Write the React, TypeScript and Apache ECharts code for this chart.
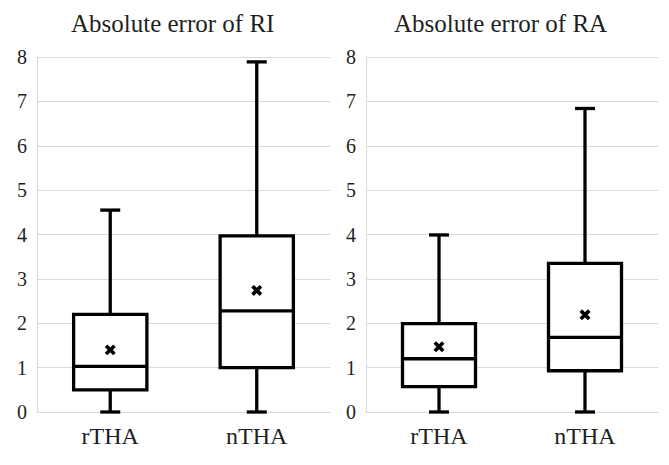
import React, { useEffect, useRef } from "react";
import * as echarts from "echarts";

const categories = ["rTHA", "nTHA"];
const yTicks = [0, 1, 2, 3, 4, 5, 6, 7, 8];

const riMin = [0, 0];
const riQ1 = [0.5, 1.0];
const riMedian = [1.03, 2.28];
const riQ3 = [2.2, 3.97];
const riMax = [4.55, 7.89];
const riMean = [1.4, 2.74];

const raMin = [0, 0];
const raQ1 = [0.57, 0.93];
const raMedian = [1.2, 1.68];
const raQ3 = [1.99, 3.35];
const raMax = [3.99, 6.84];
const raMean = [1.47, 2.19];

const titles = ["Absolute error of RI", "Absolute error of RA"];

const FONT = "serif";
const TEXT = "#1f1f1f";
const GRID = "#d9d9d9";

function buildRows(mn: number[], q1: number[], med: number[], q3: number[], mx: number[], mean: number[]) {
  return categories.map((_, i) => [i, mn[i], q1[i], med[i], q3[i], mx[i], mean[i]]);
}

const renderItem = (params: any, api: any) => {
  const x = api.value(0);
  const pMin = api.coord([x, api.value(1)]);
  const pQ1 = api.coord([x, api.value(2)]);
  const pMed = api.coord([x, api.value(3)]);
  const pQ3 = api.coord([x, api.value(4)]);
  const pMax = api.coord([x, api.value(5)]);
  const pMean = api.coord([x, api.value(6)]);
  const cx = pMin[0];
  const bw = api.size([1, 0])[0] * 0.5;
  const half = bw / 2;
  const cap = 10;
  const lw = 3.3;
  const st = { stroke: "#000", lineWidth: lw, fill: "none" };
  const m = 4.2;
  return {
    type: "group",
    children: [
      { type: "line", shape: { x1: cx, y1: pQ3[1], x2: cx, y2: pMax[1] }, style: st },
      { type: "line", shape: { x1: cx, y1: pQ1[1], x2: cx, y2: pMin[1] }, style: st },
      { type: "line", shape: { x1: cx - cap, y1: pMax[1], x2: cx + cap, y2: pMax[1] }, style: st },
      { type: "line", shape: { x1: cx - cap, y1: pMin[1], x2: cx + cap, y2: pMin[1] }, style: st },
      {
        type: "rect",
        shape: { x: cx - half, y: pQ3[1], width: bw, height: pQ1[1] - pQ3[1] },
        style: { stroke: "#000", lineWidth: lw, fill: "#fff" },
      },
      { type: "line", shape: { x1: cx - half, y1: pMed[1], x2: cx + half, y2: pMed[1] }, style: st },
      {
        type: "line",
        shape: { x1: pMean[0] - m, y1: pMean[1] - m, x2: pMean[0] + m, y2: pMean[1] + m },
        style: { stroke: "#000", lineWidth: 3.6 },
      },
      {
        type: "line",
        shape: { x1: pMean[0] - m, y1: pMean[1] + m, x2: pMean[0] + m, y2: pMean[1] - m },
        style: { stroke: "#000", lineWidth: 3.6 },
      },
    ],
  };
};

export default function App() {
  const ref = useRef<HTMLDivElement>(null);
  useEffect(() => {
    if (!ref.current) return;
    const chart = echarts.init(ref.current, undefined, { renderer: "svg" });
    // chart div sits at the body's 8px margin, so positions are shifted by -8
    const grids = [
      { left: 29, top: 49, width: 293, height: 355 },
      { left: 358, top: 49, width: 292, height: 355 },
    ];
    const xAxis = grids.map((_, i) => ({
      type: "category",
      gridIndex: i,
      data: categories,
      axisLine: { show: true, lineStyle: { color: GRID, width: 1 } },
      axisTick: { show: false },
      axisLabel: { fontFamily: FONT, fontSize: 24, color: TEXT, margin: 12 },
    }));
    const yAxis = grids.map((_, i) => ({
      type: "value",
      gridIndex: i,
      min: yTicks[0],
      max: yTicks[yTicks.length - 1],
      interval: 1,
      axisLine: { show: true, lineStyle: { color: GRID, width: 1 } },
      axisTick: { show: false },
      splitLine: { show: true, lineStyle: { color: GRID, width: 1 } },
      axisLabel: { fontFamily: FONT, fontSize: 20, color: TEXT, margin: 10 },
    }));
    const rows = [
      buildRows(riMin, riQ1, riMedian, riQ3, riMax, riMean),
      buildRows(raMin, raQ1, raMedian, raQ3, raMax, raMean),
    ];
    chart.setOption({
      animation: false,
      title: [
        {
          text: titles[0],
          left: 63,
          top: 3,
          padding: 0,
          textStyle: { fontFamily: FONT, fontSize: 25, fontWeight: "normal", color: TEXT },
        },
        {
          text: titles[1],
          left: 386,
          top: 3,
          padding: 0,
          textStyle: { fontFamily: FONT, fontSize: 25, fontWeight: "normal", color: TEXT },
        },
      ],
      grid: grids,
      xAxis,
      yAxis,
      series: rows.map((data, i) => ({
        type: "custom",
        xAxisIndex: i,
        yAxisIndex: i,
        renderItem,
        encode: { x: 0, y: [1, 2, 3, 4, 5, 6] },
        data,
        z: 3,
      })),
    });
    return () => chart.dispose();
  }, []);
  return (
    <div>
      <div ref={ref} style={{ width: 653, height: 449 }} />
    </div>
  );
}
